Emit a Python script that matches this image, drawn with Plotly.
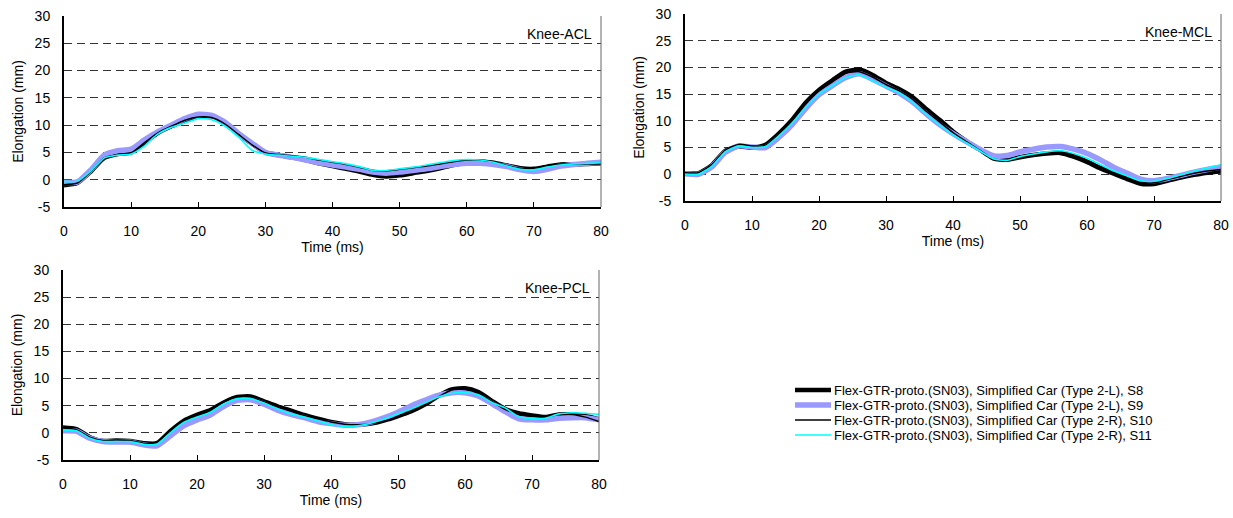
import plotly.graph_objects as go

# ---------------- data ----------------
time_ms = list(range(0, 81, 2))

series_names = [
    "Flex-GTR-proto.(SN03), Simplified Car (Type 2-L), S8",
    "Flex-GTR-proto.(SN03), Simplified Car (Type 2-L), S9",
    "Flex-GTR-proto.(SN03), Simplified Car (Type 2-R), S10",
    "Flex-GTR-proto.(SN03), Simplified Car (Type 2-R), S11",
]
panel_titles = ["Knee-ACL", "Knee-MCL", "Knee-PCL"]
x_ticks = [0, 10, 20, 30, 40, 50, 60, 70, 80]
y_ticks = [-5, 0, 5, 10, 15, 20, 25, 30]
y_tick_labels = ["-5", "0", "5", "10", "15", "20", "25", "30"]

acl_s8 = [-1.0, -0.6, 1.5, 4.0, 4.7, 5.0, 6.8, 8.6, 9.8, 10.8, 11.6, 11.6, 10.4, 8.4, 6.6, 5.0,
          4.5, 4.1, 3.6, 3.0, 2.5, 2.0, 1.5, 0.9, 0.6, 0.8, 1.2, 1.6, 2.1, 2.7, 3.1, 3.3, 3.1,
          2.6, 2.1, 2.0, 2.4, 2.8, 2.8, 2.9, 3.0]
acl_s9 = [-0.5, -0.4, 1.8, 4.5, 5.3, 5.6, 7.3, 8.8, 10.0, 11.2, 12.0, 11.8, 10.5, 8.5, 6.7, 5.0,
          4.5, 4.1, 3.6, 3.1, 2.7, 2.3, 1.9, 1.4, 1.2, 1.4, 1.7, 2.0, 2.4, 2.8, 3.0, 3.0, 2.8,
          2.4, 1.8, 1.5, 1.9, 2.5, 2.8, 3.0, 3.2]
acl_s10 = [-0.9, -0.6, 1.5, 4.0, 4.6, 4.9, 6.8, 8.6, 9.8, 10.9, 11.5, 11.4, 10.2, 8.3, 6.4, 4.9,
           4.6, 4.4, 4.1, 3.6, 3.2, 2.8, 2.3, 1.7, 1.6, 1.9, 2.2, 2.5, 2.9, 3.3, 3.6, 3.6, 3.3,
           2.6, 2.1, 2.1, 2.6, 2.9, 2.9, 2.9, 2.9]
acl_s11 = [-0.3, -0.3, 1.6, 4.0, 4.5, 4.7, 6.2, 8.4, 9.6, 10.4, 11.2, 11.0, 9.8, 7.8, 5.4, 4.7,
           4.5, 4.3, 4.1, 3.7, 3.3, 2.9, 2.4, 1.7, 1.7, 2.0, 2.3, 2.7, 3.1, 3.5, 3.7, 3.6, 3.2,
           2.5, 1.9, 1.8, 2.3, 2.7, 2.9, 3.0, 3.1]

mcl_s8 = [0.2, 0.2, 1.7, 4.4, 5.2, 5.0, 5.5, 7.6, 10.2, 13.4, 15.8, 17.6, 19.2, 19.6, 18.6, 17.1,
          15.9, 14.4, 12.2, 10.2, 8.0, 6.2, 4.6, 3.0, 2.7, 3.2, 3.6, 3.9, 4.0, 3.3, 2.3, 1.1, 0.1,
          -0.9, -1.8, -1.8, -1.2, -0.6, -0.1, 0.3, 0.5]
mcl_s9 = [0.1, 0.0, 1.4, 4.1, 5.3, 5.1, 5.0, 6.9, 9.3, 12.3, 14.9, 16.6, 18.1, 18.8, 17.8, 16.5,
          15.2, 13.5, 11.3, 9.3, 7.6, 6.1, 4.7, 3.5, 3.5, 4.2, 4.7, 5.1, 5.2, 4.7, 3.9, 2.7, 1.3,
          0.2, -0.9, -1.2, -0.8, -0.2, 0.4, 0.9, 1.3]
mcl_s10 = [0.3, 0.3, 1.8, 4.5, 5.6, 5.3, 5.4, 7.5, 10.0, 13.1, 15.6, 17.3, 18.9, 19.2, 18.2, 16.8,
           15.6, 14.0, 11.8, 9.8, 7.8, 6.1, 4.5, 2.8, 2.6, 3.3, 3.8, 4.1, 4.3, 3.7, 2.7, 1.5, 0.4,
           -0.6, -1.5, -1.6, -1.0, -0.4, 0.2, 0.6, 0.9]
mcl_s11 = [0.0, 0.0, 1.5, 4.2, 5.3, 5.0, 5.2, 7.2, 9.6, 12.5, 15.0, 16.6, 18.1, 18.6, 17.5, 16.3,
           15.2, 13.4, 11.2, 9.2, 7.4, 5.9, 4.4, 2.9, 2.6, 3.3, 3.8, 4.2, 4.4, 3.9, 3.0, 1.8, 0.6,
           -0.3, -1.2, -1.3, -0.8, -0.1, 0.6, 1.2, 1.8]

pcl_s8 = [1.0, 0.7, -0.8, -1.5, -1.4, -1.5, -1.9, -1.9, 0.3, 2.2, 3.3, 4.2, 5.6, 6.6, 6.7, 5.8,
          4.9, 4.1, 3.3, 2.6, 2.0, 1.6, 1.5, 1.7, 2.3, 3.1, 4.0, 5.2, 6.8, 8.0, 8.2, 7.5, 5.9,
          4.4, 3.6, 3.2, 2.9, 3.4, 3.4, 3.1, 2.5]
pcl_s9 = [0.4, 0.3, -1.0, -1.6, -1.7, -1.7, -2.2, -2.4, -0.6, 1.3, 2.4, 3.3, 4.9, 6.0, 6.1, 5.3,
          4.2, 3.4, 2.8, 2.1, 1.7, 1.4, 1.5, 2.0, 2.8, 3.8, 5.0, 6.0, 6.9, 7.4, 7.4, 6.8, 5.4,
          3.9, 2.6, 2.4, 2.4, 2.7, 2.8, 2.8, 2.4]
pcl_s10 = [0.9, 0.6, -0.8, -1.4, -1.3, -1.4, -1.9, -1.8, 0.4, 2.3, 3.3, 4.3, 5.7, 6.5, 6.6, 5.7,
           4.8, 4.0, 3.2, 2.6, 2.0, 1.6, 1.5, 1.7, 2.2, 2.9, 3.8, 5.0, 6.6, 7.9, 8.0, 7.3, 5.8,
           4.3, 3.5, 3.1, 2.9, 3.4, 3.4, 2.9, 2.1]
pcl_s11 = [0.5, 0.4, -1.0, -1.6, -1.6, -1.6, -2.1, -2.1, 0.0, 1.9, 2.9, 3.8, 5.3, 6.3, 6.3, 5.5,
           4.4, 3.5, 2.9, 2.2, 1.5, 1.2, 1.3, 1.8, 2.6, 3.5, 4.4, 5.5, 6.6, 7.3, 7.4, 7.0, 5.6,
           4.6, 3.0, 2.6, 2.7, 3.5, 3.7, 3.6, 3.4]

# ---------------- styling ----------------
W, H = 1233, 518
FONT = "Arial, 'Liberation Sans', sans-serif"
colors = ["#000000", "#9999FF", "#000000", "#00FFFF"]
widths = [4.5, 5.5, 1.5, 1.6]

panels = [
    dict(data=[acl_s8, acl_s9, acl_s10, acl_s11], xd=[64, 601], yd=[16, 207], xa="x", ya="y"),
    dict(data=[mcl_s8, mcl_s9, mcl_s10, mcl_s11], xd=[685, 1221], yd=[14, 201], xa="x2", ya="y2"),
    dict(data=[pcl_s8, pcl_s9, pcl_s10, pcl_s11], xd=[63, 599], yd=[270, 460], xa="x3", ya="y3"),
]

fig = go.Figure()
layout = dict(
    width=W, height=H,
    margin=dict(l=0, r=0, t=0, b=0),
    paper_bgcolor="white", plot_bgcolor="white",
    font=dict(family=FONT, size=14, color="black"),
    showlegend=False,
    template="none",
)

shapes = []
annotations = []
for i, p in enumerate(panels):
    for k in range(4):
        fig.add_trace(go.Scatter(
            x=time_ms, y=p["data"][k], name=series_names[k], mode="lines",
            line=dict(color=colors[k], width=widths[k], shape="spline", smoothing=0.6),
            xaxis=p["xa"], yaxis=p["ya"], showlegend=(i == 0),
        ))
    sx = "" if i == 0 else str(i + 1)
    layout["xaxis" + sx] = dict(
        domain=[p["xd"][0] / W, p["xd"][1] / W], anchor=p["ya"],
        range=[0, 80], tickmode="array", tickvals=x_ticks,
        ticks="inside", ticklen=5, tickwidth=1, tickcolor="black",
        showline=True, linecolor="black", linewidth=2,
        showgrid=False, zeroline=False, automargin=False,
        tickfont=dict(size=14), ticklabelstandoff=10,
        title=dict(text="Time (ms)", font=dict(size=14), standoff=4),
    )
    layout["yaxis" + sx] = dict(
        domain=[1 - p["yd"][1] / H, 1 - p["yd"][0] / H], anchor=p["xa"],
        range=[-5, 30], tickmode="array", tickvals=y_ticks, ticktext=y_tick_labels,
        ticks="", showline=True, linecolor="black", linewidth=2,
        showgrid=True, gridcolor="#333333", gridwidth=1, griddash="8px,5px",
        zeroline=False, automargin=False,
        tickfont=dict(size=14), ticklabelstandoff=9,
        title=dict(text="Elongation (mm)", font=dict(size=14), standoff=8),
    )
    # right frame edge
    shapes.append(dict(type="line", xref=p["xa"] + " domain", yref=p["ya"] + " domain",
                       x0=1, x1=1, y0=0, y1=1, line=dict(color="#666666", width=1)))
    annotations.append(dict(
        text=panel_titles[i], xref=p["xa"] + " domain", yref=p["ya"] + " domain",
        x=1 - 7 / (p["xd"][1] - p["xd"][0]), y=1 - 18 / (p["yd"][1] - p["yd"][0]),
        xanchor="right", yanchor="middle", showarrow=False, font=dict(size=14),
    ))

# legend (drawn manually to keep the compact spacing of the original)
leg_rows = [390, 405, 420, 435]
for k in range(4):
    yp = 1 - leg_rows[k] / H
    shapes.append(dict(type="line", xref="paper", yref="paper",
                       x0=795 / W, x1=831 / W, y0=yp, y1=yp,
                       line=dict(color=colors[k], width=widths[k])))
    annotations.append(dict(text=series_names[k], xref="paper", yref="paper",
                            x=833 / W, y=yp, xanchor="left", yanchor="middle",
                            showarrow=False, borderpad=0, font=dict(size=13)))

layout["shapes"] = shapes
layout["annotations"] = annotations
fig.update_layout(**layout)
fig.write_html("out.html")
